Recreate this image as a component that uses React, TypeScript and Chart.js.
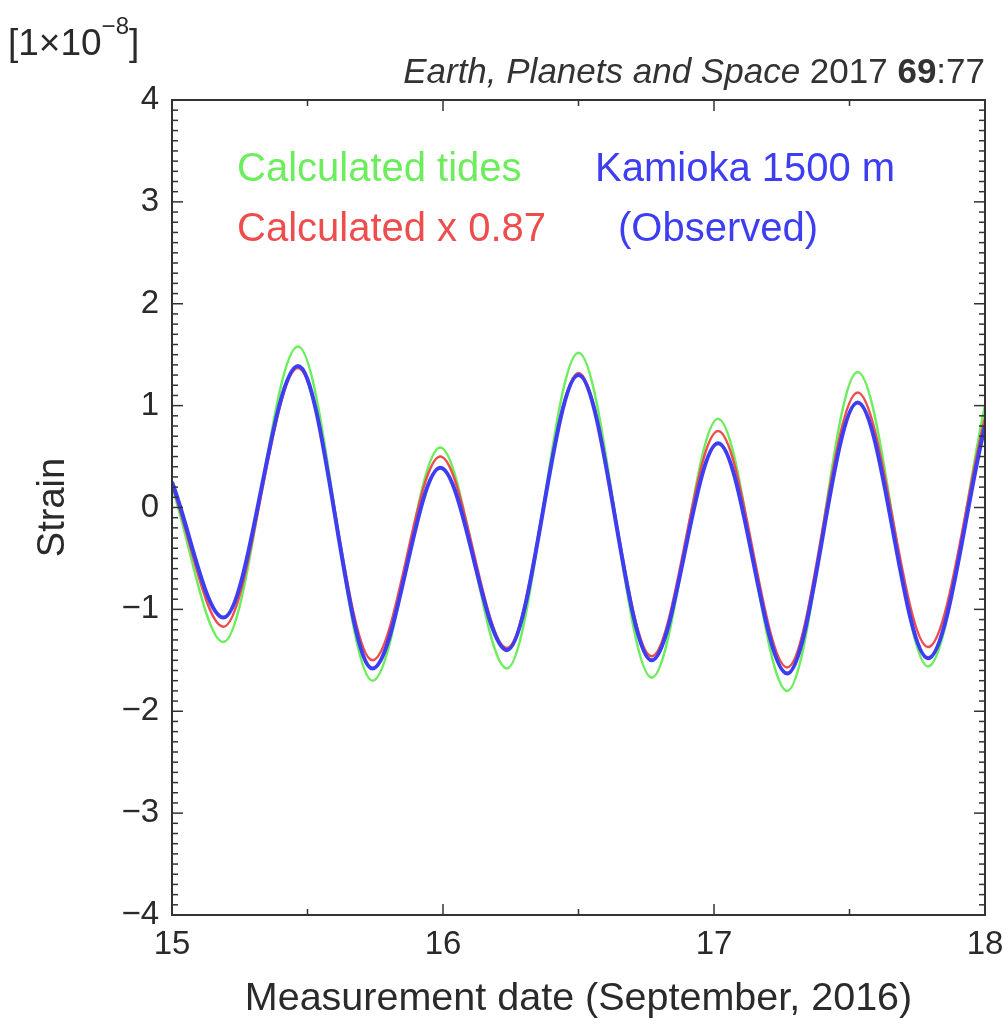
import React, { useEffect, useRef } from "react";
import { Chart, registerables } from "chart.js";

Chart.register(...registerables);

// Time (days, September 2016) at the window edges and at each peak / trough
const times = [15.0, 15.19, 15.465, 15.74, 15.99, 16.236, 16.5, 16.77, 17.015, 17.27, 17.53, 17.79, 18.0];

// Strain [1e-8]
const calculatedTides = [0.2, -1.32, 1.58, -1.7, 0.59, -1.58, 1.52, -1.67, 0.87, -1.8, 1.33, -1.56, 1.0];
const calculatedScaled = [0.22, -1.17, 1.37, -1.5, 0.5, -1.38, 1.32, -1.46, 0.75, -1.57, 1.13, -1.37, 0.88];
const observed = [0.25, -1.08, 1.39, -1.58, 0.39, -1.4, 1.3, -1.5, 0.63, -1.63, 1.03, -1.48, 0.8];

const xTicks = [15, 16, 17, 18];
const yTicks = [-4, -3, -2, -1, 0, 1, 2, 3, 4];

const FAMILY = "'Liberation Sans', Arial, Helvetica, sans-serif";
const INK = "#2a2a2a";

const GREEN = "#6ced5c";
const RED = "#ee4d4d";
const BLUE = "#3d3df2";

const decorPlugin = {
  id: "decor",
  afterDatasetsDraw(chart: any) {
    const { ctx, chartArea, scales } = chart;
    const { left, right, top, bottom } = chartArea;
    const x = scales.x;
    const y = scales.y;
    ctx.save();
    ctx.strokeStyle = "#333";
    ctx.lineWidth = 1.5;
    const seg = (x1: number, y1: number, x2: number, y2: number) => {
      ctx.beginPath();
      ctx.moveTo(x1, y1);
      ctx.lineTo(x2, y2);
      ctx.stroke();
    };
    for (let i = -40; i <= 40; i++) {
      const py = y.getPixelForValue(i / 10);
      const len = i % 10 === 0 ? 11 : 6;
      seg(left, py, left + len, py);
      seg(right, py, right - len, py);
    }
    for (let i = 30; i <= 36; i++) {
      const px = x.getPixelForValue(i / 2);
      const len = i % 2 === 0 ? 11 : 6;
      seg(px, bottom, px, bottom - len);
      seg(px, top, px, top + len);
    }
    ctx.lineWidth = 2;
    ctx.strokeRect(left, top, right - left, bottom - top);

    // in-plot labels
    ctx.textBaseline = "middle";
    ctx.textAlign = "left";
    ctx.font = `40px ${FAMILY}`;
    ctx.fillStyle = GREEN;
    ctx.fillText("Calculated tides", left + 65, top + 70);
    ctx.fillStyle = RED;
    ctx.fillText("Calculated x 0.87", left + 65, top + 130);
    ctx.fillStyle = BLUE;
    ctx.fillText("Kamioka 1500 m", left + 423, top + 70);
    ctx.fillText("(Observed)", left + 446, top + 130);

    // unit label
    ctx.fillStyle = INK;
    ctx.textBaseline = "alphabetic";
    ctx.font = `37px ${FAMILY}`;
    let cx = 8;
    ctx.fillText("[1\u00d710", cx, 55);
    cx += ctx.measureText("[1\u00d710").width;
    ctx.font = `24px ${FAMILY}`;
    ctx.fillText("\u22128", cx, 34);
    cx += ctx.measureText("\u22128").width;
    ctx.font = `37px ${FAMILY}`;
    ctx.fillText("]", cx, 55);

    // citation (right aligned)
    ctx.fillStyle = "#333";
    const parts: [string, string][] = [
      ["Earth, Planets and Space", `italic 35px ${FAMILY}`],
      [" 2017 ", `35px ${FAMILY}`],
      ["69", `bold 35px ${FAMILY}`],
      [":77", `35px ${FAMILY}`],
    ];
    let total = 0;
    for (const [t, f] of parts) {
      ctx.font = f;
      total += ctx.measureText(t).width;
    }
    let px = right - total;
    for (const [t, f] of parts) {
      ctx.font = f;
      ctx.fillText(t, px, 83);
      px += ctx.measureText(t).width;
    }
    ctx.restore();
  },
};

export default function App() {
  const ref = useRef<HTMLCanvasElement | null>(null);
  useEffect(() => {
    if (!ref.current) return;
    const mk = (vals: number[]) => times.map((t, i) => ({ x: t, y: vals[i] }));
    const chart = new Chart(ref.current, {
      type: "line",
      data: {
        datasets: [
          {
            label: "Kamioka 1500 m (Observed)",
            data: mk(observed),
            borderColor: BLUE,
            borderWidth: 4,
            cubicInterpolationMode: "monotone",
            order: 1,
          },
          {
            label: "Calculated x 0.87",
            data: mk(calculatedScaled),
            borderColor: RED,
            borderWidth: 2.5,
            cubicInterpolationMode: "monotone",
            order: 2,
          },
          {
            label: "Calculated tides",
            data: mk(calculatedTides),
            borderColor: GREEN,
            borderWidth: 2.5,
            cubicInterpolationMode: "monotone",
            order: 3,
          },
        ],
      },
      options: {
        animation: false,
        responsive: false,
        maintainAspectRatio: false,
        layout: { padding: { top: 100, right: 19, left: 0, bottom: 0 } },
        elements: { point: { radius: 0 } },
        plugins: { legend: { display: false }, tooltip: { enabled: false } },
        scales: {
          x: {
            type: "linear",
            min: 15,
            max: 18,
            afterBuildTicks: (s: any) => {
              s.ticks = xTicks.map((v) => ({ value: v }));
            },
            grid: { display: false, drawTicks: false },
            border: { display: false },
            ticks: { font: { size: 33, family: FAMILY }, color: INK, padding: 10, maxRotation: 0 },
            title: {
              display: true,
              text: "Measurement date (September, 2016)",
              font: { size: 39.5, family: FAMILY },
              color: INK,
              padding: { top: 0, bottom: 9 },
            },
            afterFit: (s: any) => {
              s.height = 117;
              s.paddingLeft = 0;
              s.paddingRight = 0;
            },
          },
          y: {
            type: "linear",
            min: -4,
            max: 4,
            afterBuildTicks: (s: any) => {
              s.ticks = yTicks.map((v) => ({ value: v }));
            },
            grid: { display: false, drawTicks: false },
            border: { display: false },
            ticks: {
              font: { size: 33, family: FAMILY },
              color: INK,
              padding: 13,
              callback: (v: any) => (v < 0 ? "\u2212" + Math.abs(v) : String(v)),
            },
            title: {
              display: true,
              text: "Strain",
              font: { size: 38, family: FAMILY },
              color: INK,
              padding: { top: 31, bottom: 0 },
            },
            afterFit: (s: any) => {
              s.width = 172;
              s.paddingTop = 0;
              s.paddingBottom = 0;
            },
          },
        },
      },
      plugins: [decorPlugin],
    } as any);
    return () => chart.destroy();
  }, []);
  return (
    <div style={{ position: "absolute", left: 0, top: 0, width: 1004, height: 1032, background: "#fff" }}>
      <canvas ref={ref} width={1004} height={1032} />
    </div>
  );
}
